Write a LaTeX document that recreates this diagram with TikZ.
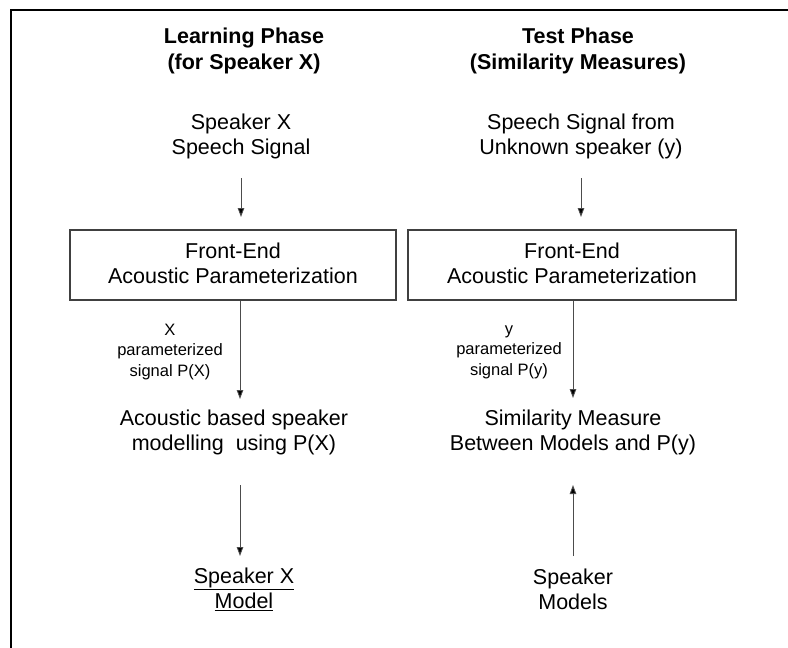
\documentclass[tikz,border=0pt]{standalone}
\usepackage{fontspec}
\setmainfont{Liberation Sans}
\usetikzlibrary{arrows.meta}
\begin{document}
\begin{tikzpicture}[x=1pt,y=-1pt,
  txt/.style={inner sep=0pt,align=center,font=\fontsize{21.5}{25}\selectfont},
  ttl/.style={txt,font=\fontsize{21.5}{26}\selectfont\bfseries},
  small/.style={inner sep=0pt,align=center,font=\fontsize{16.5}{20.5}\selectfont},
  boxst/.style={draw=black!75,line width=1.2pt},
  arr/.style={draw=black!70,line width=0.9pt,-{Triangle[length=9pt,width=6.5pt,fill=black]}}]
\useasboundingbox (0,0) rectangle (788,648);
\draw[line width=2.2pt] (790,10) -- (11,10) -- (11,650);
% titles
\node[ttl] (tL) at (244,51) {Learning Phase\\(for Speaker X)};
\node[ttl] (tR) at (578,51) {Test Phase\\(Similarity Measures)};
% sources
\node[txt] (sL) at (241,136) {Speaker X\\Speech Signal};
\node[txt] (sR) at (581,136) {Speech Signal from\\Unknown speaker (y)};
% boxes
\draw[boxst] (70,230) rectangle (396,300);
\draw[boxst] (408,230) rectangle (736,300);
\node[txt] (bL) at (233,263) {Front-End\\Acoustic Parameterization};
\node[txt] (bR) at (572,263) {Front-End\\Acoustic Parameterization};
% labels
\node[small] (pL) at (170,352) {X\\parameterized\\signal P(X)};
\node[small] (pR) at (509,352) {y\\parameterized\\signal P(y)};
% middle
\node[txt] (aL) at (234,432) {Acoustic based speaker\\modelling\ \ using P(X)};
\node[txt] (aR) at (573,432) {Similarity Measure\\Between Models and P(y)};
% bottom
\node[txt] (mL) at (244,589) {\underline{Speaker X}\\\underline{Model}};
\node[txt] (mR) at (573,589) {Speaker\\Models};
% arrow coordinates
\coordinate (l1a) at (241,178); \coordinate (l1b) at (241,217);
\coordinate (r1a) at (581,178); \coordinate (r1b) at (581,217);
\coordinate (l2a) at (240,301); \coordinate (l2b) at (240,399);
\coordinate (r2a) at (573,301); \coordinate (r2b) at (573,398);
\coordinate (l3a) at (240,485); \coordinate (l3b) at (240,556);
\coordinate (r3a) at (573,556); \coordinate (r3b) at (573,485);
\draw[arr] (l1a) -- (l1b);
\draw[arr] (r1a) -- (r1b);
\draw[arr] (l2a) -- (l2b);
\draw[arr] (r2a) -- (r2b);
\draw[arr] (l3a) -- (l3b);
\draw[arr] (r3a) -- (r3b);
\end{tikzpicture}
\end{document}
